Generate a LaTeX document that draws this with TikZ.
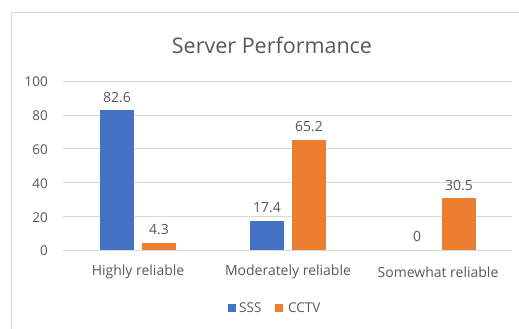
\documentclass[tikz,border=0pt]{standalone}
\usepackage{fontspec}
\setmainfont{Open Sans}
\definecolor{sssblue}{HTML}{4472C4}
\definecolor{cctvorange}{HTML}{ED7D31}
\definecolor{gridgray}{HTML}{D9D9D9}
\definecolor{textgray}{HTML}{595959}

\begin{document}
\begin{tikzpicture}[x=1pt,y=1pt,
    lbl/.style={text=textgray, inner sep=0pt, font=\fontsize{14}{14}\selectfont},
    ticklbl/.style={lbl, anchor=east, font=\fontsize{13.5}{13.5}\selectfont},
    vallbl/.style={lbl, anchor=south},
    leglbl/.style={lbl, anchor=west, font=\fontsize{13.5}{13.5}\selectfont}]
  \useasboundingbox (0,0) rectangle (519,329);
  \fill[white] (0,0) rectangle (519,329);
  % chart frame
  \draw[gridgray] (11,0) -- (11,317) -- (519,317);
  \node[text=textgray, font=\fontsize{21.5}{21.5}\selectfont] (title) at (272,284) {Server Performance};
  % grid and y ticks
  \foreach \v in {0,20,...,100} {
      \draw[gridgray] (63, 79+1.69*\v) -- (512, 79+1.69*\v);
      \node[ticklbl] (tick\v) at (48, 78+1.69*\v) {\v};
  }
  % bars: SSS, CCTV per category
  \foreach \k/\s/\c/\name in {0/82.6/4.3/Highly reliable, 1/17.4/65.2/Moderately reliable, 2/0/30.5/Somewhat reliable} {
      \fill[sssblue] (100+150*\k, 79) rectangle (134+150*\k, 79+1.69*\s);
      \fill[cctvorange] (142+150*\k, 79) rectangle (176+150*\k, 79+1.69*\c);
      \node[vallbl] (sss\k) at (117+150*\k, 87+1.69*\s) {\s};
      \node[vallbl] (cctv\k) at (159+150*\k, 87+1.69*\c) {\c};
      \node[lbl] (cat\k) at (138+150*\k, 57) {\name};
  }
  % legend
  \fill[sssblue] (228,17) rectangle (236,25);
  \node[leglbl] (legsss) at (239,21) {SSS};
  \fill[cctvorange] (275,17) rectangle (283,25);
  \node[leglbl] (legcctv) at (288,21) {CCTV};
\end{tikzpicture}
\end{document}
